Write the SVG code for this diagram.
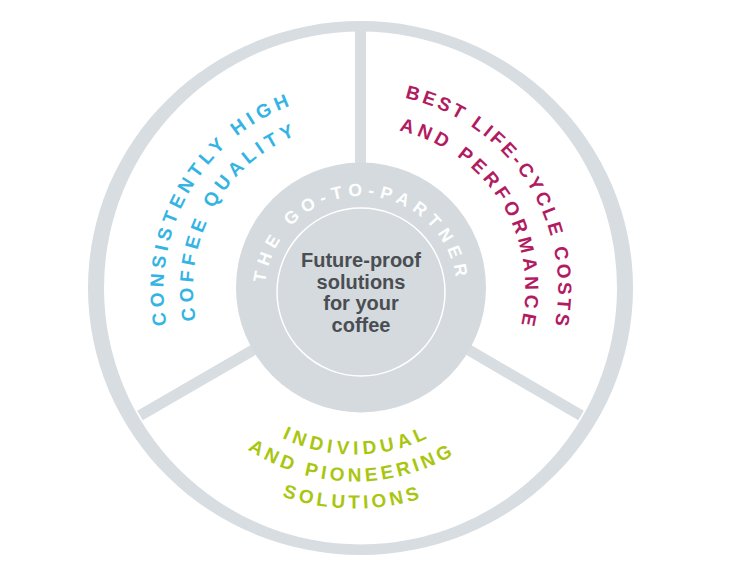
<svg xmlns="http://www.w3.org/2000/svg" width="750" height="582" viewBox="0 0 750 582">
<style>
.ring{fill:#d7dde1;fill-rule:evenodd}
.spoke{stroke:#d7dde1;stroke-width:11;fill:none}
.arc{font-family:"Liberation Sans",Arial,sans-serif;font-size:19px;font-weight:bold}
.cyan{fill:#34b4e4}
.mag{fill:#b21b61}
.grn{fill:#a9c60f}
.partner{font-family:"Liberation Sans",Arial,sans-serif;font-size:17.5px;font-weight:bold;fill:#ffffff;letter-spacing:5.7px}
.core{font-family:"Liberation Sans",Arial,sans-serif;font-size:20px;font-weight:bold;fill:#4a4e53;text-anchor:middle}
</style>
<defs>
<path id="pC1" d="M532.04,388.75 A197.5,197.5 0 0 1 189.96,191.25 A197.5,197.5 0 0 1 532.04,388.75"/>
<path id="pC2" d="M508.37,371.69 A168.5,168.5 0 0 1 213.63,208.31 A168.5,168.5 0 0 1 508.37,371.69"/>
<path id="pM1" d="M195.36,397.56 A197.5,197.5 0 0 1 526.64,182.44 A197.5,197.5 0 0 1 195.36,397.56"/>
<path id="pM2" d="M220.32,376.21 A165,165 0 0 1 501.68,203.79 A165,165 0 0 1 220.32,376.21"/>
<path id="pG1" d="M352.93,115.51 A169.5,169.5 0 0 0 357.07,454.49 A169.5,169.5 0 0 0 352.93,115.51"/>
<path id="pG2" d="M358.43,88.53 A196.5,196.5 0 0 0 351.57,481.47 A196.5,196.5 0 0 0 358.43,88.53"/>
<path id="pG3" d="M357.34,61.51 A223.5,223.5 0 0 0 352.66,508.49 A223.5,223.5 0 0 0 357.34,61.51"/>
<path id="pP" d="M361,388 A96,96 0 0 1 361,196 A96,96 0 0 1 361,388"/>
</defs>

<g id="wheel">
<path class="ring" d="M88,288 A272.5,267 0 1 0 633,288 A272.5,267 0 1 0 88,288 Z M104,288 A256.5,256.5 0 1 1 617,288 A256.5,256.5 0 1 1 104,288 Z"/>
</g>

<g id="connectors">
<line class="spoke" x1="360.5" y1="25" x2="360.5" y2="170"/>
<line class="spoke" x1="140" y1="415.5" x2="260" y2="346"/>
<line class="spoke" x1="581" y1="415.5" x2="462" y2="346"/>
</g>

<g id="segment-quality">
<text class="arc cyan" style="letter-spacing:4.7px" text-anchor="middle"><textPath href="#pC1" startOffset="50%">CONSISTENTLY HIGH</textPath></text>
<text class="arc cyan" style="letter-spacing:4.7px" text-anchor="middle"><textPath href="#pC2" startOffset="50%">COFFEE QUALITY</textPath></text>
</g>

<g id="segment-costs">
<text class="arc mag" style="letter-spacing:3.1px" text-anchor="middle"><textPath href="#pM1" startOffset="50%">BEST LIFE-CYCLE COSTS</textPath></text>
<text class="arc mag" style="letter-spacing:4.25px" text-anchor="middle"><textPath href="#pM2" startOffset="50%">AND PERFORMANCE</textPath></text>
</g>

<g id="segment-solutions">
<text class="arc grn" style="letter-spacing:4.6px" text-anchor="middle"><textPath href="#pG1" startOffset="50%">INDIVIDUAL</textPath></text>
<text class="arc grn" style="letter-spacing:3.9px" text-anchor="middle"><textPath href="#pG2" startOffset="50%">AND PIONEERING</textPath></text>
<text class="arc grn" style="letter-spacing:3.65px" text-anchor="middle"><textPath href="#pG3" startOffset="50%">SOLUTIONS</textPath></text>
</g>

<g id="center">
<circle cx="361" cy="287.5" r="125" fill="#d4dadd"/>
<circle cx="361" cy="292" r="84" fill="none" stroke="#ffffff" stroke-width="1.5"/>
<text class="partner" text-anchor="middle"><textPath href="#pP" startOffset="50%">THE GO-TO-PARTNER</textPath></text>
<text class="core" x="361" y="267">Future-proof</text>
<text class="core" x="361" y="288.5">solutions</text>
<text class="core" x="361" y="310">for your</text>
<text class="core" x="361" y="331.5">coffee</text>
</g>
</svg>
